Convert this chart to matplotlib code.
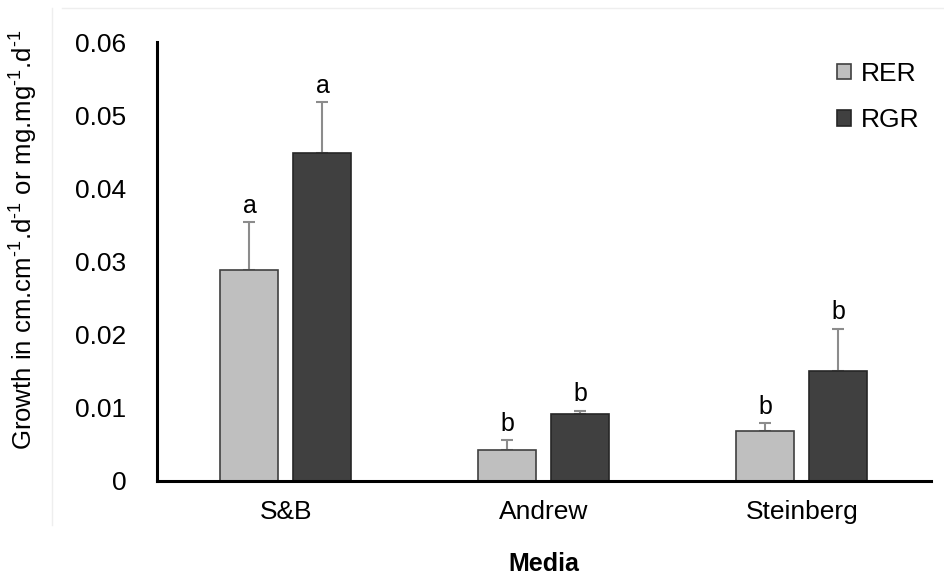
import numpy as np
import matplotlib.pyplot as plt
from matplotlib.lines import Line2D

plt.rcParams['font.family'] = ['Liberation Sans', 'DejaVu Sans']
plt.rcParams['mathtext.fontset'] = 'custom'
plt.rcParams['mathtext.rm'] = 'Liberation Sans'
plt.rcParams['mathtext.it'] = 'Liberation Sans'
plt.rcParams['mathtext.default'] = 'regular'

media = ['S&B', 'Andrew', 'Steinberg']
rer = [0.0288, 0.0042, 0.0068]
rer_err = [0.0066, 0.0014, 0.0011]
rgr = [0.0448, 0.0092, 0.0150]
rgr_err = [0.0070, 0.0004, 0.0058]
rer_letters = ['a', 'b', 'b']
rgr_letters = ['a', 'b', 'b']

fig = plt.figure(figsize=(9.44, 5.77), dpi=100)
ax = fig.add_axes([0.1663, 0.1664, 0.8197, 0.7607])

# faint chart-area border
fig.add_artist(Line2D([52/944, 52/944], [1 - 525/577, 1 - 8/577],
                      transform=fig.transFigure, color='#eeeeee', lw=1))
fig.add_artist(Line2D([62/944, 1], [1 - 8/577, 1 - 8/577],
                      transform=fig.transFigure, color='#eeeeee', lw=1))

x = np.arange(len(media))
w = 0.225
off = 0.1415

ekw = dict(ecolor='#8c8c8c', elinewidth=1.5, capsize=4.5, capthick=1.5)
ax.bar(x - off, rer, w, color='#bfbfbf', edgecolor='#404040', lw=1.2,
       label='RER', zorder=2)
ax.bar(x + off, rgr, w, color='#404040', edgecolor='#262626', lw=1.2,
       label='RGR', zorder=2)
ax.errorbar(x - off, rer, yerr=[np.zeros(3), rer_err], fmt='none', zorder=1, **ekw)
ax.errorbar(x + off, rgr, yerr=[np.zeros(3), rgr_err], fmt='none', zorder=1, **ekw)

for i in range(3):
    ax.text(x[i] - off, rer[i] + rer_err[i] + 0.0006, rer_letters[i],
            ha='center', va='bottom', fontsize=18)
    ax.text(x[i] + off, rgr[i] + rgr_err[i] + 0.0006, rgr_letters[i],
            ha='center', va='bottom', fontsize=18)

ax.set_xlim(-0.5, 2.5)
ax.set_ylim(0, 0.06)
ax.set_yticks(np.arange(0, 0.061, 0.01))
ax.set_yticklabels(['0', '0.01', '0.02', '0.03', '0.04', '0.05', '0.06'])
ax.set_xticks(x)
ax.set_xticklabels(media)
ax.tick_params(length=0, labelsize=19, pad=22)
ax.tick_params(axis='x', pad=14)

for s in ['top', 'right']:
    ax.spines[s].set_visible(False)
for s in ['left', 'bottom']:
    ax.spines[s].set_linewidth(2.2)
    ax.spines[s].set_color('black')

ax.set_xlabel('Media', fontsize=18, fontweight='bold', labelpad=20)
ax.set_ylabel(r'Growth in cm.cm$^{\text{-1}}$.d$^{\text{-1}}$ or mg.mg$^{\text{-1}}$.d$^{\text{-1}}$',
              fontsize=18.5)
ax.yaxis.set_label_coords(-0.151, 0.549)

leg = ax.legend(loc='upper right', bbox_to_anchor=(1.0155, 1.009), frameon=False,
                fontsize=19, handlelength=0.55, handleheight=0.55,
                handletextpad=0.35, labelspacing=0.85)

fig.savefig('out.png', dpi=100)
